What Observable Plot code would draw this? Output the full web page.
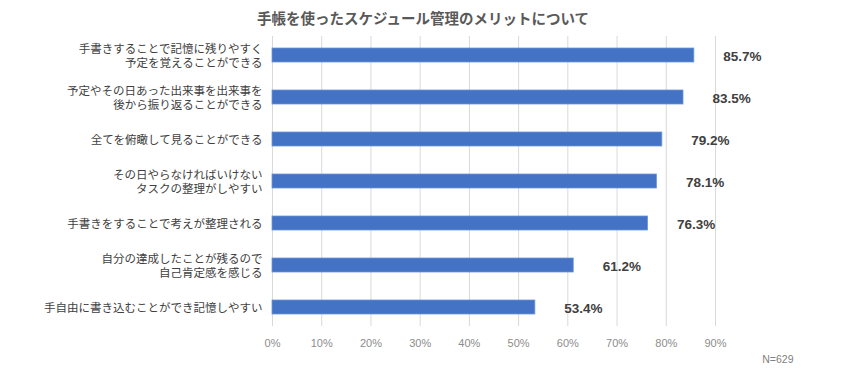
<!DOCTYPE html>
<html><head><meta charset="utf-8">
<script src="https://cdn.jsdelivr.net/npm/d3@7"></script>
<script src="https://cdn.jsdelivr.net/npm/@observablehq/plot@0.6"></script>
<style>body{margin:0;background:#fff;} svg{display:block;}</style>
</head><body><div id="chart"></div>
<script>
const title = "手帳を使ったスケジュール管理のメリットについて";
const note = "N=629";
const categories = [
  "手書きすることで記憶に残りやすく\n予定を覚えることができる",
  "予定やその日あった出来事を出来事を\n後から振り返ることができる",
  "全てを俯瞰して見ることができる",
  "その日やらなければいけない\nタスクの整理がしやすい",
  "手書きをすることで考えが整理される",
  "自分の達成したことが残るので\n自己肯定感を感じる",
  "手自由に書き込むことができ記憶しやすい"
];
const values = [85.7, 83.5, 79.2, 78.1, 76.3, 61.2, 53.4];
const xTicks = [0, 10, 20, 30, 40, 50, 60, 70, 80, 90];

const data = categories.map((c, i) => ({cat: c, v: values[i]}));
const font = "'Noto Sans CJK JP', 'Noto Sans', sans-serif";
const narrow = "'Liberation Sans Narrow', 'Liberation Sans', sans-serif";

const plot = Plot.plot({
  width: 845, height: 370,
  marginLeft: 272, marginRight: 130, marginTop: 36, marginBottom: 44,
  style: {fontFamily: font, background: "#fff"},
  x: {domain: [0, 90], ticks: xTicks, tickFormat: d => d + "%", label: null},
  y: {domain: categories, label: null, paddingInner: 0.66, paddingOuter: 0.28},
  marks: [
    Plot.gridX(xTicks, {stroke: "#d9d9d9", strokeOpacity: 1}),
    Plot.axisX({ticks: xTicks, tickFormat: d => d + "%", tickSize: 0, tickPadding: 13, fontSize: 11, fontFamily: narrow, color: "#8c8c8c", label: null}),
    Plot.axisY({tickSize: 0, tickPadding: 10, fontSize: 11.5, color: "#404040", lineHeight: 1.27, label: null}),
    Plot.barX(data, {x: "v", y: "cat", fill: "#4472C4", stroke: "#6f95d8", strokeWidth: 0.8}),
    Plot.text(data, {x: "v", y: "cat", text: d => d.v.toFixed(1) + "%", textAnchor: "start", dx: 29, dy: 1, fontSize: 13.5, fontWeight: "bold", fontFamily: narrow, fill: "#404040"}),
    Plot.text([title], {frameAnchor: "top", dy: -23, dx: -71, text: d => d, fontSize: 14.5, fontWeight: "bold", fill: "#595959"}),
    Plot.text([note], {frameAnchor: "bottom-right", dx: 78, dy: 36, text: d => d, fontSize: 10.5, fontFamily: narrow, fill: "#7f7f7f"})
  ]
});
document.getElementById("chart").appendChild(plot);
</script></body></html>
